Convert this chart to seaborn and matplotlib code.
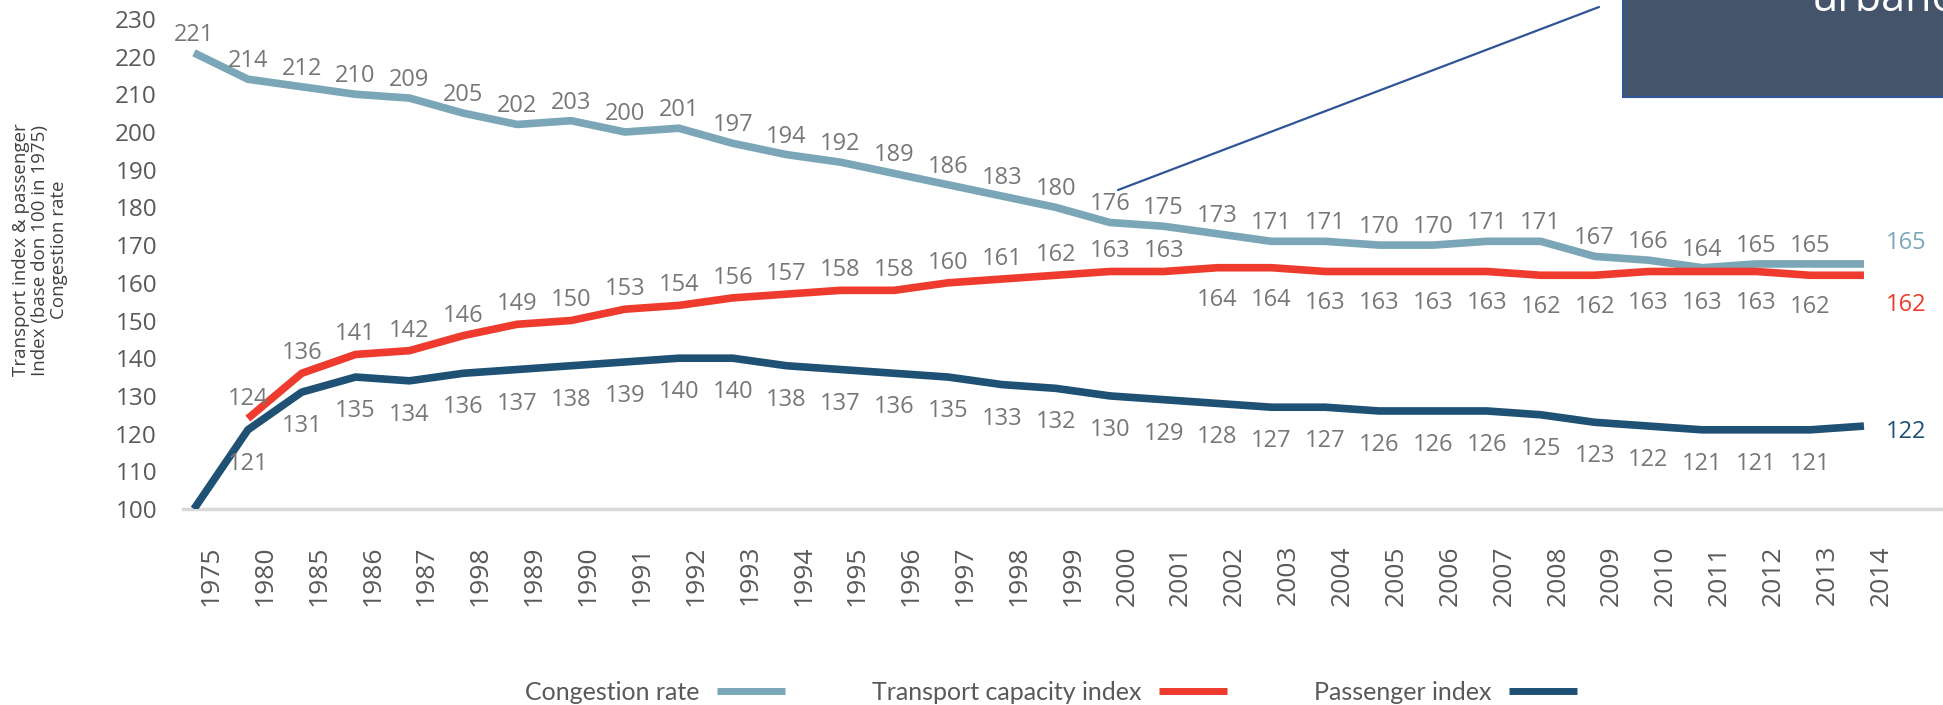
import numpy as np
import pandas as pd
import matplotlib
matplotlib.use("Agg")
import matplotlib.pyplot as plt
import seaborn as sns
from matplotlib.transforms import ScaledTranslation
from matplotlib.lines import Line2D
from matplotlib.patches import Rectangle

# ---- data -------------------------------------------------------------
years = ["1975", "1980", "1985", "1986", "1987", "1998", "1989", "1990",
         "1991", "1992", "1993", "1994", "1995", "1996", "1997", "1998",
         "1999", "2000", "2001", "2002", "2003", "2004", "2005", "2006",
         "2007", "2008", "2009", "2010", "2011", "2012", "2013", "2014"]

congestion = [221, 214, 212, 210, 209, 205, 202, 203, 200, 201, 197, 194,
              192, 189, 186, 183, 180, 176, 175, 173, 171, 171, 170, 170,
              171, 171, 167, 166, 164, 165, 165, 165]

capacity = [np.nan, 124, 136, 141, 142, 146, 149, 150, 153, 154, 156, 157,
            158, 158, 160, 161, 162, 163, 163, 164, 164, 163, 163, 163,
            163, 162, 162, 163, 163, 163, 162, 162]

passenger = [100, 121, 131, 135, 134, 136, 137, 138, 139, 140, 140, 138,
             137, 136, 135, 133, 132, 130, 129, 128, 127, 127, 126, 126,
             126, 125, 123, 122, 121, 121, 121, 122]

series_names = ["Congestion rate", "Transport capacity index", "Passenger index"]
series_colors = ["#7AA6B7", "#EE3B2D", "#1F5174"]
y_ticks = list(range(100, 231, 10))

# ---- styling ----------------------------------------------------------
sns.set_theme(style="white")
plt.rcParams["font.family"] = ["Open Sans", "DejaVu Sans"]

W, H, DPI = 1943, 705, 100
fig = plt.figure(figsize=(W / DPI, H / DPI), dpi=DPI)
PX = 72.0 / DPI  # points per pixel

ax_left, ax_bottom = 183, 509          # pixel positions of the plot frame
step = 53.87                           # pixels per category
unit = 3.77                            # pixels per index point
ax = fig.add_axes([ax_left / W, 1 - ax_bottom / H, 1 - ax_left / W, ax_bottom / H])

x = np.arange(len(years))
df = pd.DataFrame({
    "pos": np.tile(x, 3),
    "value": np.concatenate([congestion, capacity, passenger]),
    "series": np.repeat(series_names, len(years)),
})

sns.lineplot(data=df, x="pos", y="value", hue="series", hue_order=series_names,
             palette=series_colors, linewidth=5.5, legend=False, ax=ax,
             zorder=3, solid_joinstyle="round", solid_capstyle="butt")

ax.set_xlim(-(194 - ax_left) / step, (W - 194) / step)
ax.set_ylim(100, 100 + ax_bottom / unit)

# ---- axes -------------------------------------------------------------
for side in ["top", "right", "left"]:
    ax.spines[side].set_visible(False)
ax.spines["bottom"].set_color("#D9D9D9")
ax.spines["bottom"].set_linewidth(2.5)
ax.grid(False)

ax.set_yticks(y_ticks)
ax.set_yticklabels([str(t) for t in y_ticks])
ax.tick_params(axis="y", length=0, pad=26 * PX, labelsize=17.5, labelcolor="#595959")

ax.set_xticks(x)
ax.set_xticklabels(years, rotation=90)
ax.tick_params(axis="x", length=0, pad=36 * PX, labelsize=19, labelcolor="#595959")
shift = ScaledTranslation(17 / DPI, 0, fig.dpi_scale_trans)
for lab in ax.get_xticklabels():
    lab.set_transform(lab.get_transform() + shift)
    lab.set_va("top")

ax.set_xlabel("")
ax.set_ylabel("")

# ---- data labels ------------------------------------------------------
label_gray = "#777777"
last = len(years) - 1


def put(i, v, dy_px, color=label_gray, dx_px=0, ha="center"):
    ax.annotate(str(int(v)), (i, v), xytext=(dx_px * PX, dy_px * PX),
                textcoords="offset points", ha=ha, va="center",
                fontsize=17, color=color, zorder=4)


for i, v in enumerate(congestion[:-1]):
    put(i, v, 18)
for i, v in enumerate(capacity[:-1]):
    if np.isnan(v):
        continue
    put(i, v, 20 if i <= 18 else -32)
for i, v in enumerate(passenger[:-1]):
    if i == 0:
        continue
    put(i, v, -34)

# end-of-line values in series colour
put(last, congestion[-1], 21, color=series_colors[0], dx_px=22, ha="left")
put(last, capacity[-1], -30, color=series_colors[1], dx_px=22, ha="left")
put(last, passenger[-1], -6, color=series_colors[2], dx_px=22, ha="left")

# ---- axis title -------------------------------------------------------
fig.text(40 / W, 1 - 250 / H,
         "Transport index & passenger\nIndex (base don 100 in 1975)\nCongestion rate",
         rotation=90, ha="center", va="center", multialignment="center",
         fontsize=13.5, color="#404040", linespacing=1.1)

# ---- legend -----------------------------------------------------------
handles = [Line2D([], [], color=c, lw=5, solid_capstyle="butt") for c in series_colors]
ax.legend(handles, series_names, loc="center",
          bbox_to_anchor=(1051 / W, 1 - 692 / H), bbox_transform=fig.transFigure,
          ncol=3, markerfirst=False, frameon=False, handlelength=2.7,
          handletextpad=0.7, columnspacing=3.5,
          prop={"family": ["Lato", "DejaVu Sans"], "weight": "normal", "size": 18},
          labelcolor="#595959")

# ---- callout box ------------------------------------------------------
fig.add_artist(Rectangle((1623 / W, 1 - 97 / H), 0.5, 0.5, transform=fig.transFigure,
                         facecolor="#44546A", edgecolor="#2F5597", linewidth=1.5,
                         zorder=5))
fig.text(1812 / W, 1 - 11 / H, "urbano", color="white", fontsize=31,
         ha="left", va="baseline", zorder=6)
fig.add_artist(Line2D([1118 / W, 1599 / W], [1 - 190 / H, 1 - 7 / H],
                      transform=fig.transFigure, color="#2F5597", linewidth=1.6,
                      zorder=5))

fig.savefig("out.png", dpi=DPI)
